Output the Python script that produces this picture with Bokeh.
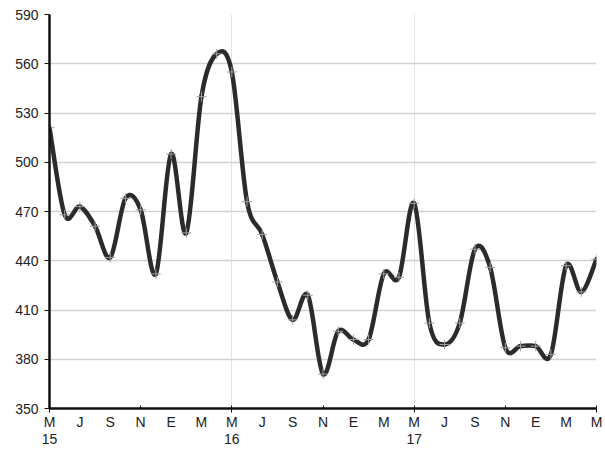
import numpy as np
from bokeh.plotting import figure
from bokeh.models import (ColumnDataSource, LinearAxis, FixedTicker, Range1d)
from bokeh.embed import file_html
from bokeh.resources import INLINE

# Monthly values, May 2015 .. May 2018
months = list(range(37))
values = [521, 468, 473, 461, 442, 478, 471, 432, 505, 457, 540, 566, 555,
          476, 456, 427, 404, 419, 371, 397, 392, 392, 432, 430, 475, 402,
          389, 402, 447, 436, 387, 388, 388, 383, 437, 421, 441]
label_ticks = list(range(0, 37, 2))
month_labels = ["M", "J", "S", "N", "E", "M"] * 6 + ["M"]
year_labels = {0: "15", 12: "16", 24: "17"}
y_ticks = [350, 380, 410, 440, 470, 500, 530, 560, 590]

FONT = "Liberation Sans"

p = figure(width=605, height=450, output_backend="svg", toolbar_location=None,
           x_range=Range1d(0, 36), y_range=Range1d(350, 590),
           x_axis_location=None, min_border_left=49, min_border_top=14,
           min_border_right=9, min_border_bottom=41)
p.outline_line_color = None

# grids
p.ygrid.ticker = FixedTicker(ticks=y_ticks)
p.ygrid.grid_line_color = "#d2d2d2"
p.ygrid.grid_line_width = 1.5
p.xgrid.ticker = FixedTicker(ticks=[12, 24, 36])
p.xgrid.grid_line_color = "#e4e4e4"
p.xgrid.grid_line_width = 1

# y axis
ya = p.yaxis[0]
ya.ticker = FixedTicker(ticks=y_ticks)
ya.axis_line_color = "#111111"
ya.axis_line_width = 2.5
ya.major_tick_in = 0
ya.major_tick_out = 5
ya.major_tick_line_color = "#111111"
ya.minor_tick_line_color = None
ya.major_label_standoff = 6
ya.major_label_text_font = FONT
ya.major_label_text_font_size = "14px"
ya.major_label_text_color = "#222222"

# x axis line + ticks (no labels)
xt = LinearAxis(ticker=FixedTicker(ticks=[0, 12, 24, 36], minor_ticks=[6, 18, 30]))
xt.axis_line_color = "#111111"
xt.axis_line_width = 2.5
xt.major_tick_in = 3
xt.major_tick_out = 4
xt.major_tick_line_color = "#111111"
xt.minor_tick_in = 3
xt.minor_tick_out = 0
xt.minor_tick_line_color = "#111111"
xt.major_label_text_font_size = "1px"
xt.major_label_text_alpha = 0
xt.major_label_standoff = 0
xt.major_label_overrides = {0: "", 12: "", 24: "", 36: ""}
p.add_layout(xt, "below")

# x labels
xl = LinearAxis(ticker=FixedTicker(ticks=label_ticks))
xl.axis_line_color = None
xl.major_tick_line_color = None
xl.minor_tick_line_color = None
xl.major_tick_out = 0
xl.major_tick_in = 0
xl.major_label_standoff = 1
xl.major_label_text_font = FONT
xl.major_label_text_font_size = "14px"
xl.major_label_text_color = "#222222"
xl.major_label_text_line_height = 1.1
overrides = {}
for t, m in zip(label_ticks, month_labels):
    overrides[t] = m + ("\n" + year_labels[t] if t in year_labels else "")
xl.major_label_overrides = overrides
p.add_layout(xl, "below")

# smoothed line via bezier segments (Catmull-Rom style control points)
x = np.array(months, dtype=float)
y = np.array(values, dtype=float)
xp = np.concatenate([[x[0]], x, [x[-1]]])
yp = np.concatenate([[y[0]], y, [y[-1]]])
n = len(x)
x0 = x[:-1]; y0 = y[:-1]; x1 = x[1:]; y1 = y[1:]
cx0 = x0 + (xp[2:n + 1] - xp[0:n - 1]) / 6.0
cy0 = y0 + (yp[2:n + 1] - yp[0:n - 1]) / 6.0
cx1 = x1 - (xp[3:n + 2] - xp[1:n]) / 6.0
cy1 = y1 - (yp[3:n + 2] - yp[1:n]) / 6.0
seg = ColumnDataSource(dict(x0=x0, y0=y0, x1=x1, y1=y1,
                            cx0=cx0, cy0=cy0, cx1=cx1, cy1=cy1))
p.bezier(x0="x0", y0="y0", x1="x1", y1="y1", cx0="cx0", cy0="cy0",
         cx1="cx1", cy1="cy1", source=seg, line_color="#2b2b2b",
         line_width=4.5, line_cap="round")

pts = ColumnDataSource(dict(x=months, y=values))
p.scatter("x", "y", source=pts, marker="cross", size=10,
          line_color="#a0a0a0", line_width=1)

open("out.html", "w").write(file_html(p, INLINE))
